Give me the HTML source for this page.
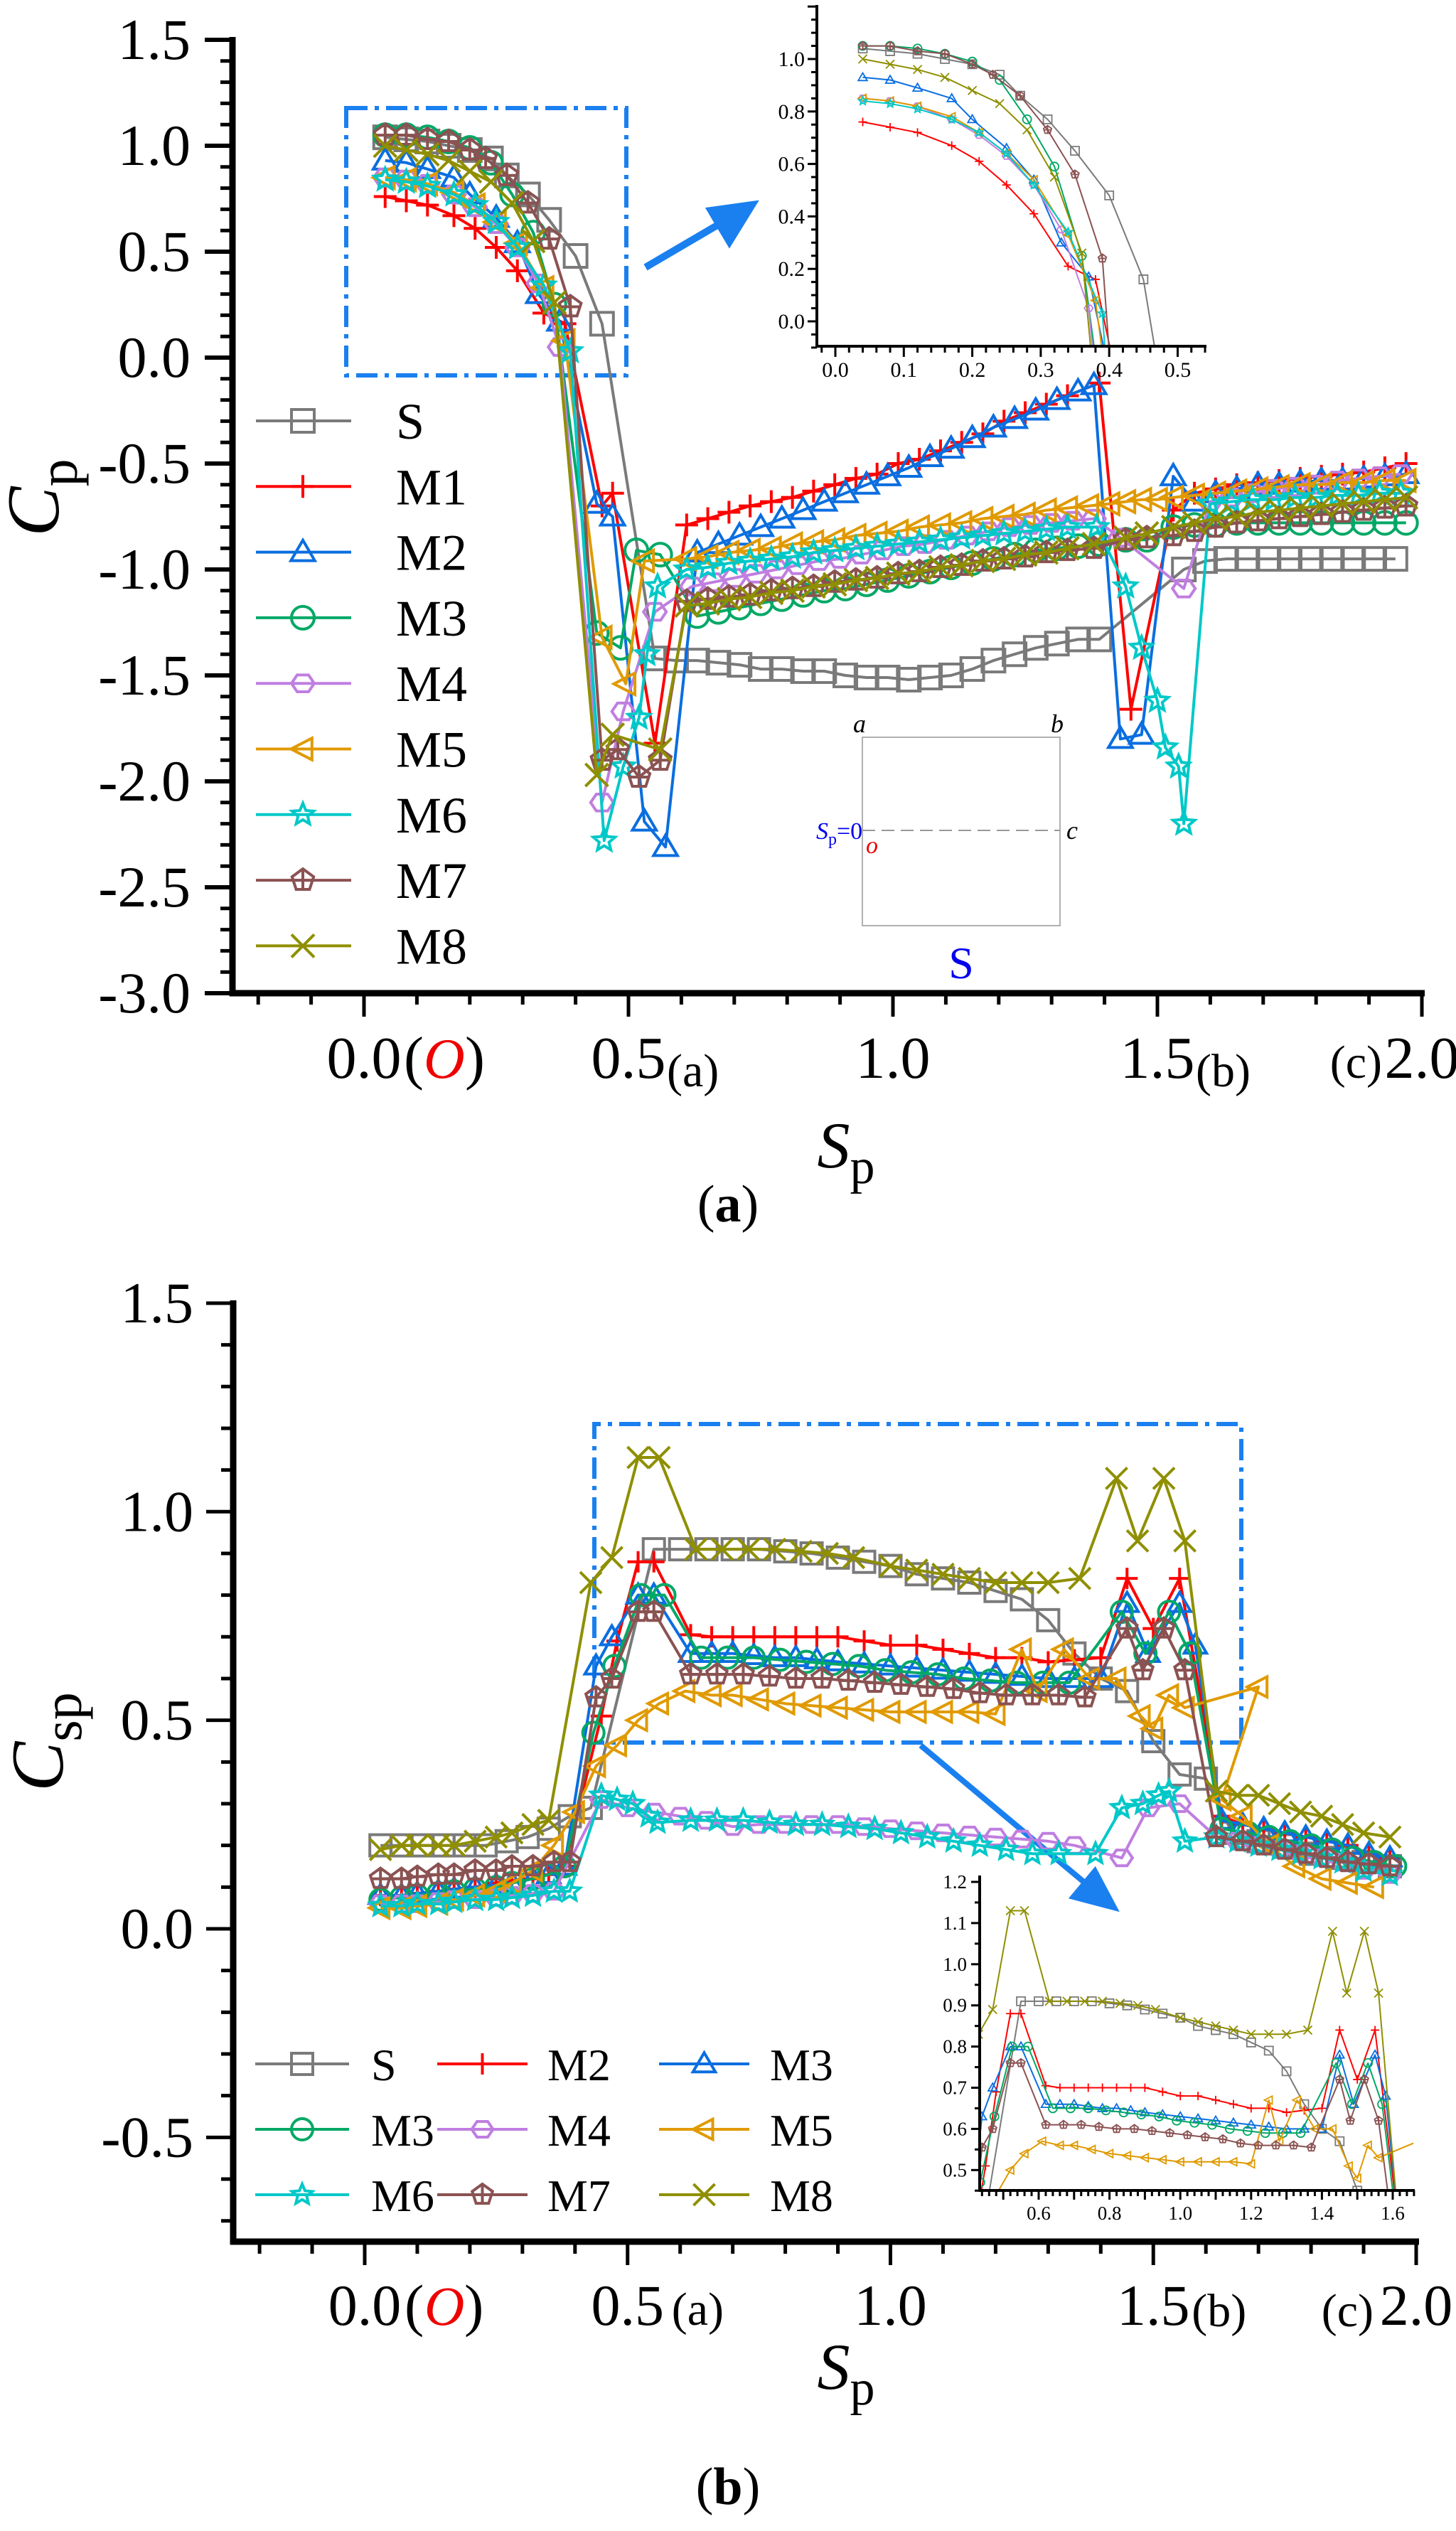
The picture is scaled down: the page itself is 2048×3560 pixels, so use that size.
<!DOCTYPE html>
<html><head><meta charset="utf-8"><style>
html,body{margin:0;padding:0;background:#fff;}
svg{display:block;font-family:"Liberation Serif",serif;}
</style></head><body>
<svg id="fig" xmlns="http://www.w3.org/2000/svg" width="2048" height="3560" viewBox="0 0 2048 3560">
<rect x="0" y="0" width="2048" height="3560" fill="#fff"/>
<g id="panelA"></g>
<g id="panelB"></g>
<text transform="translate(82,700) rotate(-90)" text-anchor="middle" font-size="105" font-style="italic">C<tspan font-style="normal" font-size="78" dy="26">p</tspan></text>
<text x="1190" y="1642" text-anchor="middle" font-size="92" font-style="italic">S<tspan font-style="normal" font-size="70" dy="22">p</tspan></text>
<text x="1024" y="1718" text-anchor="middle" font-size="74">(<tspan font-weight="bold">a</tspan>)</text>
<text transform="translate(88,2450) rotate(-90)" text-anchor="middle" font-size="105" font-style="italic">C<tspan font-style="normal" font-size="78" dy="26">sp</tspan></text>
<text x="1190" y="3360" text-anchor="middle" font-size="92" font-style="italic">S<tspan font-style="normal" font-size="70" dy="22">p</tspan></text>
<text x="1024" y="3522" text-anchor="middle" font-size="74">(<tspan font-weight="bold">b</tspan>)</text>
<g>
<rect x="1213" y="1037" width="278" height="265" fill="none" stroke="#b0b0b0" stroke-width="2"/>
<line x1="1213" y1="1168" x2="1491" y2="1168" stroke="#999" stroke-width="2" stroke-dasharray="18 9"/>
<text x="1200" y="1030" font-size="36" font-style="italic">a</text>
<text x="1478" y="1030" font-size="36" font-style="italic">b</text>
<text x="1500" y="1180" font-size="36" font-style="italic">c</text>
<text x="1148" y="1180" font-size="34" font-style="italic" fill="#0000ee">S<tspan font-style="normal" font-size="24" dy="8">p</tspan><tspan font-style="normal" font-size="34" dy="-8">=0</tspan></text>
<text x="1218" y="1200" font-size="34" font-style="italic" fill="#ee0000">o</text>
<text x="1352" y="1376" text-anchor="middle" font-size="64" fill="#0000ee">S</text>
</g>
</svg>
<script>
// ---------- Panel (a) data: Cp vs Sp ----------
const seriesNames = ['S','M1','M2','M3','M4','M5','M6','M7','M8'];
const aS_x=[0.04,0.08,0.12,0.16,0.20,0.24,0.27,0.31,0.35,0.40,0.45,0.55,0.59,0.63,0.67,0.71,0.75,0.79,0.83,0.87,0.91,0.95,0.99,1.03,1.07,1.11,1.15,1.19,1.23,1.27,1.31,1.35,1.39,1.55,1.59,1.63,1.67,1.71,1.75,1.79,1.83,1.87,1.91,1.95];
const aS_y=[1.04,1.03,1.02,1.0,0.98,0.94,0.86,0.77,0.65,0.48,0.16,-1.42,-1.43,-1.43,-1.44,-1.45,-1.47,-1.47,-1.48,-1.48,-1.5,-1.51,-1.51,-1.52,-1.51,-1.5,-1.47,-1.43,-1.4,-1.37,-1.35,-1.33,-1.33,-1.0,-0.96,-0.95,-0.95,-0.95,-0.95,-0.95,-0.95,-0.95,-0.95,-0.95];
const aM1_x=[0.04,0.08,0.12,0.17,0.21,0.25,0.29,0.34,0.38,0.45,0.47,0.55,0.61,0.65,0.69,0.73,0.77,0.81,0.85,0.89,0.93,0.97,1.01,1.05,1.09,1.13,1.17,1.21,1.25,1.29,1.33,1.39,1.45,1.53,1.57,1.61,1.65,1.69,1.73,1.77,1.81,1.85,1.89,1.93,1.97];
const aM1_y=[0.76,0.74,0.72,0.67,0.61,0.52,0.41,0.21,0.16,-0.7,-0.64,-1.82,-0.79,-0.76,-0.73,-0.7,-0.68,-0.66,-0.63,-0.6,-0.57,-0.55,-0.5,-0.48,-0.44,-0.4,-0.36,-0.3,-0.26,-0.22,-0.18,-0.12,-1.66,-0.72,-0.64,-0.62,-0.6,-0.59,-0.58,-0.57,-0.56,-0.55,-0.54,-0.52,-0.5];
const aM2_x=[0.04,0.08,0.12,0.17,0.20,0.25,0.29,0.33,0.37,0.44,0.47,0.53,0.57,0.63,0.67,0.71,0.75,0.79,0.83,0.87,0.91,0.95,0.99,1.03,1.07,1.11,1.15,1.19,1.23,1.27,1.31,1.35,1.38,1.43,1.47,1.53,1.57,1.61,1.65,1.69,1.73,1.77,1.81,1.85,1.89,1.93,1.97];
const aM2_y=[0.93,0.92,0.89,0.85,0.77,0.66,0.54,0.3,0.17,-0.69,-0.75,-2.19,-2.31,-0.92,-0.88,-0.84,-0.8,-0.76,-0.72,-0.68,-0.64,-0.6,-0.56,-0.52,-0.47,-0.43,-0.38,-0.33,-0.29,-0.25,-0.2,-0.16,-0.13,-1.8,-1.78,-0.56,-0.68,-0.64,-0.62,-0.6,-0.6,-0.59,-0.58,-0.58,-0.57,-0.56,-0.55];
const aM3_x=[0.04,0.08,0.12,0.16,0.20,0.24,0.28,0.32,0.36,0.44,0.485,0.515,0.56,0.63,0.67,0.71,0.75,0.79,0.83,0.87,0.91,0.95,0.99,1.03,1.07,1.11,1.15,1.19,1.23,1.27,1.31,1.35,1.39,1.44,1.48,1.53,1.57,1.61,1.65,1.69,1.73,1.77,1.81,1.85,1.89,1.93,1.97];
const aM3_y=[1.05,1.05,1.04,1.02,0.99,0.92,0.77,0.59,0.25,-1.3,-1.37,-0.91,-0.93,-1.22,-1.2,-1.18,-1.16,-1.14,-1.12,-1.1,-1.09,-1.07,-1.05,-1.03,-1.01,-0.99,-0.97,-0.95,-0.93,-0.91,-0.9,-0.89,-0.88,-0.86,-0.86,-0.8,-0.79,-0.79,-0.78,-0.78,-0.78,-0.78,-0.78,-0.78,-0.78,-0.78,-0.78];
const aM4_x=[0.04,0.08,0.12,0.17,0.21,0.25,0.29,0.33,0.37,0.45,0.49,0.55,0.62,0.66,0.70,0.74,0.78,0.82,0.86,0.90,0.94,0.98,1.02,1.06,1.10,1.14,1.18,1.22,1.26,1.30,1.34,1.38,1.43,1.55,1.60,1.64,1.68,1.72,1.76,1.80,1.84,1.88,1.92,1.96];
const aM4_y=[0.85,0.84,0.82,0.77,0.71,0.63,0.52,0.35,0.05,-2.1,-1.67,-1.2,-1.08,-1.06,-1.04,-1.02,-1.0,-0.98,-0.96,-0.95,-0.93,-0.91,-0.89,-0.88,-0.86,-0.84,-0.82,-0.8,-0.79,-0.78,-0.77,-0.76,-0.85,-1.09,-0.68,-0.66,-0.64,-0.62,-0.61,-0.6,-0.58,-0.57,-0.56,-0.55];
const aM5_x=[0.04,0.08,0.12,0.17,0.21,0.25,0.29,0.34,0.38,0.45,0.495,0.53,0.61,0.65,0.69,0.73,0.77,0.81,0.85,0.89,0.93,0.97,1.01,1.05,1.09,1.13,1.17,1.21,1.25,1.29,1.33,1.37,1.41,1.44,1.47,1.50,1.53,1.57,1.61,1.65,1.69,1.73,1.77,1.81,1.85,1.89,1.93,1.97];
const aM5_y=[0.85,0.84,0.82,0.78,0.72,0.64,0.54,0.33,0.08,-1.32,-1.54,-0.96,-0.95,-0.94,-0.92,-0.91,-0.9,-0.88,-0.87,-0.86,-0.84,-0.83,-0.82,-0.8,-0.79,-0.78,-0.76,-0.75,-0.74,-0.72,-0.71,-0.7,-0.69,-0.68,-0.67,-0.67,-0.66,-0.65,-0.64,-0.63,-0.62,-0.61,-0.6,-0.6,-0.59,-0.59,-0.58,-0.58];
const aM6_x=[0.04,0.08,0.12,0.17,0.21,0.25,0.29,0.34,0.39,0.454,0.49,0.52,0.535,0.555,0.61,0.65,0.69,0.73,0.77,0.81,0.85,0.89,0.93,0.97,1.01,1.05,1.09,1.13,1.17,1.21,1.25,1.29,1.33,1.385,1.44,1.47,1.50,1.515,1.54,1.55,1.60,1.64,1.68,1.72,1.76,1.80,1.84,1.88,1.92,1.96];
const aM6_y=[0.84,0.83,0.81,0.77,0.72,0.64,0.52,0.34,0.03,-2.28,-1.93,-1.7,-1.4,-1.08,-1.0,-0.99,-0.97,-0.96,-0.95,-0.94,-0.92,-0.91,-0.9,-0.89,-0.88,-0.87,-0.86,-0.85,-0.84,-0.83,-0.82,-0.81,-0.8,-0.8,-1.08,-1.37,-1.62,-1.84,-1.93,-2.2,-0.69,-0.68,-0.67,-0.67,-0.66,-0.66,-0.65,-0.65,-0.64,-0.64];
const aM7_x=[0.04,0.08,0.12,0.16,0.20,0.23,0.27,0.31,0.35,0.39,0.45,0.48,0.52,0.56,0.61,0.65,0.69,0.73,0.77,0.81,0.85,0.89,0.93,0.97,1.01,1.05,1.09,1.13,1.17,1.21,1.25,1.29,1.33,1.38,1.44,1.48,1.53,1.57,1.61,1.65,1.69,1.73,1.77,1.81,1.85,1.89,1.93,1.97];
const aM7_y=[1.05,1.05,1.03,1.02,0.98,0.94,0.86,0.73,0.56,0.24,-1.9,-1.85,-1.98,-1.9,-1.15,-1.14,-1.13,-1.12,-1.1,-1.09,-1.08,-1.06,-1.05,-1.04,-1.02,-1.01,-0.99,-0.98,-0.96,-0.95,-0.94,-0.92,-0.91,-0.9,-0.86,-0.85,-0.84,-0.82,-0.8,-0.78,-0.77,-0.76,-0.75,-0.74,-0.73,-0.72,-0.71,-0.7];
const aM8_x=[0.04,0.08,0.12,0.16,0.20,0.24,0.28,0.32,0.36,0.44,0.47,0.56,0.61,0.65,0.69,0.73,0.77,0.81,0.85,0.89,0.93,0.97,1.01,1.05,1.09,1.13,1.17,1.21,1.25,1.29,1.33,1.38,1.44,1.48,1.53,1.57,1.61,1.65,1.69,1.73,1.77,1.81,1.85,1.89,1.93,1.97];
const aM8_y=[1.0,0.98,0.96,0.93,0.88,0.83,0.73,0.55,0.26,-1.97,-1.78,-1.85,-1.17,-1.16,-1.14,-1.13,-1.11,-1.1,-1.08,-1.07,-1.05,-1.04,-1.02,-1.01,-0.99,-0.98,-0.96,-0.95,-0.93,-0.92,-0.9,-0.88,-0.85,-0.83,-0.8,-0.78,-0.76,-0.75,-0.73,-0.72,-0.71,-0.7,-0.69,-0.68,-0.67,-0.66];
const aYTicks=[1.5,1.0,0.5,0.0,-0.5,-1.0,-1.5,-2.0,-2.5,-3.0];
const aYTickLabels=['1.5','1.0','0.5','0.0','-0.5','-1.0','-1.5','-2.0','-2.5','-3.0'];
const xTicks=[0.0,0.5,1.0,1.5,2.0];
const xTickLabels=['0.0','0.5','1.0','1.5','2.0'];
const insetAXTicks=[0.0,0.1,0.2,0.3,0.4,0.5];
const insetAXLabels=['0.0','0.1','0.2','0.3','0.4','0.5'];
const insetAYTicks=[0.0,0.2,0.4,0.6,0.8,1.0];
const insetAYLabels=['0.0','0.2','0.4','0.6','0.8','1.0'];

// ---------- Panel (b) data: Csp vs Sp ----------
const bS_x=[0.03,0.07,0.11,0.15,0.19,0.23,0.27,0.31,0.35,0.39,0.43,0.55,0.60,0.65,0.70,0.75,0.80,0.85,0.90,0.95,1.0,1.05,1.10,1.15,1.20,1.25,1.30,1.35,1.40,1.45,1.50,1.55,1.60,1.65,1.70,1.75,1.80,1.85,1.90,1.95];
const bS_y=[0.2,0.2,0.2,0.2,0.2,0.2,0.21,0.22,0.24,0.27,0.29,0.91,0.91,0.91,0.91,0.91,0.905,0.9,0.89,0.88,0.87,0.85,0.84,0.83,0.81,0.79,0.74,0.66,0.6,0.57,0.45,0.37,0.36,0.23,0.21,0.2,0.18,0.17,0.16,0.15];
const bM1_x=[0.03,0.07,0.10,0.14,0.17,0.21,0.25,0.28,0.32,0.35,0.38,0.45,0.48,0.52,0.55,0.62,0.66,0.70,0.74,0.78,0.82,0.86,0.90,0.95,1.0,1.05,1.10,1.15,1.20,1.25,1.30,1.35,1.40,1.45,1.50,1.55,1.63,1.67,1.71,1.75,1.79,1.83,1.87,1.91,1.95];
const bM1_y=[0.08,0.08,0.085,0.09,0.095,0.1,0.11,0.115,0.12,0.13,0.15,0.51,0.69,0.88,0.88,0.705,0.7,0.7,0.7,0.7,0.7,0.7,0.7,0.69,0.68,0.68,0.67,0.66,0.65,0.65,0.64,0.645,0.65,0.84,0.72,0.84,0.27,0.25,0.24,0.23,0.22,0.21,0.2,0.18,0.17];
const bM2_x=[0.03,0.07,0.10,0.14,0.17,0.21,0.25,0.28,0.32,0.35,0.38,0.44,0.47,0.52,0.55,0.62,0.66,0.70,0.74,0.78,0.82,0.86,0.90,0.95,1.0,1.05,1.10,1.15,1.20,1.25,1.30,1.35,1.40,1.45,1.49,1.55,1.58,1.63,1.67,1.71,1.75,1.79,1.83,1.87,1.91,1.95];
const bM2_y=[0.08,0.08,0.085,0.09,0.095,0.1,0.105,0.11,0.12,0.13,0.15,0.63,0.7,0.8,0.8,0.66,0.66,0.66,0.655,0.65,0.65,0.645,0.64,0.635,0.63,0.625,0.62,0.615,0.61,0.605,0.6,0.6,0.6,0.78,0.66,0.78,0.68,0.26,0.25,0.24,0.23,0.22,0.21,0.2,0.18,0.17];
const bM3_x=[0.03,0.07,0.10,0.14,0.17,0.21,0.25,0.28,0.32,0.35,0.38,0.435,0.475,0.525,0.57,0.64,0.69,0.74,0.79,0.84,0.89,0.94,0.99,1.04,1.09,1.14,1.19,1.24,1.29,1.34,1.44,1.485,1.53,1.57,1.63,1.68,1.72,1.76,1.80,1.84,1.88,1.92,1.96];
const bM3_y=[0.07,0.075,0.08,0.085,0.09,0.095,0.1,0.11,0.12,0.13,0.15,0.47,0.63,0.8,0.8,0.65,0.65,0.65,0.645,0.64,0.635,0.63,0.62,0.615,0.61,0.6,0.595,0.59,0.59,0.59,0.76,0.66,0.76,0.66,0.24,0.23,0.22,0.21,0.2,0.19,0.17,0.16,0.15];
const bM4_x=[0.03,0.07,0.10,0.14,0.17,0.21,0.25,0.28,0.32,0.36,0.45,0.50,0.55,0.60,0.65,0.70,0.75,0.80,0.85,0.90,0.95,1.0,1.05,1.10,1.15,1.20,1.25,1.30,1.35,1.44,1.49,1.55,1.62,1.66,1.70,1.74,1.78,1.82,1.86,1.90,1.95];
const bM4_y=[0.06,0.06,0.06,0.065,0.07,0.07,0.075,0.08,0.085,0.09,0.31,0.29,0.28,0.27,0.26,0.245,0.25,0.25,0.25,0.25,0.245,0.24,0.235,0.23,0.225,0.22,0.215,0.21,0.2,0.17,0.29,0.3,0.22,0.21,0.2,0.19,0.18,0.17,0.16,0.14,0.13];
const bM5_x=[0.03,0.07,0.10,0.14,0.17,0.21,0.25,0.28,0.32,0.36,0.40,0.44,0.48,0.52,0.56,0.61,0.66,0.70,0.75,0.80,0.85,0.90,0.95,1.0,1.05,1.10,1.15,1.20,1.25,1.28,1.33,1.38,1.43,1.476,1.50,1.53,1.56,1.70,1.63,1.67,1.72,1.77,1.82,1.87,1.92];
const bM5_y=[0.05,0.05,0.055,0.06,0.07,0.08,0.09,0.11,0.14,0.2,0.28,0.39,0.44,0.5,0.54,0.57,0.56,0.56,0.55,0.54,0.535,0.53,0.525,0.52,0.52,0.52,0.52,0.515,0.67,0.57,0.67,0.6,0.6,0.51,0.48,0.56,0.53,0.58,0.31,0.27,0.2,0.15,0.12,0.11,0.1];
const bM6_x=[0.03,0.07,0.10,0.14,0.17,0.21,0.25,0.28,0.32,0.36,0.39,0.45,0.48,0.51,0.54,0.557,0.62,0.67,0.72,0.77,0.82,0.87,0.92,0.97,1.02,1.07,1.12,1.17,1.22,1.27,1.32,1.39,1.44,1.48,1.51,1.53,1.56,1.62,1.66,1.70,1.74,1.78,1.82,1.86,1.90,1.95];
const bM6_y=[0.055,0.055,0.06,0.06,0.065,0.07,0.07,0.075,0.08,0.09,0.09,0.32,0.31,0.3,0.27,0.255,0.26,0.26,0.26,0.255,0.25,0.25,0.245,0.24,0.23,0.22,0.21,0.2,0.19,0.18,0.18,0.18,0.29,0.3,0.32,0.33,0.21,0.22,0.21,0.2,0.19,0.18,0.17,0.16,0.14,0.13];
const bM7_x=[0.03,0.07,0.10,0.14,0.17,0.21,0.25,0.28,0.32,0.36,0.39,0.44,0.47,0.52,0.55,0.62,0.67,0.72,0.77,0.82,0.87,0.92,0.97,1.02,1.07,1.12,1.17,1.22,1.27,1.32,1.37,1.45,1.48,1.52,1.56,1.62,1.67,1.71,1.75,1.79,1.83,1.87,1.91,1.95];
const bM7_y=[0.12,0.12,0.125,0.13,0.13,0.14,0.14,0.15,0.15,0.16,0.16,0.555,0.6,0.76,0.76,0.61,0.61,0.61,0.605,0.6,0.6,0.595,0.59,0.585,0.58,0.575,0.565,0.56,0.56,0.56,0.555,0.72,0.62,0.72,0.62,0.22,0.21,0.2,0.19,0.18,0.17,0.16,0.155,0.15];
const bM8_x=[0.03,0.07,0.10,0.14,0.17,0.21,0.25,0.28,0.32,0.35,0.43,0.47,0.52,0.56,0.63,0.68,0.73,0.78,0.83,0.88,0.93,1.0,1.05,1.10,1.15,1.20,1.25,1.30,1.36,1.43,1.47,1.52,1.56,1.62,1.66,1.70,1.74,1.78,1.82,1.86,1.90,1.95];
const bM8_y=[0.19,0.2,0.2,0.2,0.2,0.21,0.22,0.23,0.25,0.26,0.83,0.89,1.13,1.13,0.91,0.91,0.91,0.91,0.905,0.9,0.89,0.87,0.86,0.85,0.84,0.83,0.83,0.83,0.84,1.08,0.93,1.08,0.93,0.33,0.32,0.32,0.3,0.28,0.27,0.25,0.23,0.22];
const bYTicks=[1.5,1.0,0.5,0.0,-0.5];
const bYTickLabels=['1.5','1.0','0.5','0.0','-0.5'];
const insetBXTicks=[0.6,0.8,1.0,1.2,1.4,1.6];
const insetBXLabels=['0.6','0.8','1.0','1.2','1.4','1.6'];
const insetBYTicks=[0.5,0.6,0.7,0.8,0.9,1.0,1.1,1.2];
const insetBYLabels=['0.5','0.6','0.7','0.8','0.9','1.0','1.1','1.2'];

const colors=['#7a7a7a','#ff0000','#0a6ee0','#00a865','#c07ee0','#e09a00','#00c8c8','#8b5252','#8f8f00'];
const markers=['square','plus','tri','circle','hex','ltri','star','pent','x'];
const legendALabels=['S','M1','M2','M3','M4','M5','M6','M7','M8'];
const legendBLabels=['S','M2','M3','M3','M4','M5','M6','M7','M8'];

const NS='http://www.w3.org/2000/svg';
function mk(tag,parent){const e=document.createElementNS(NS,tag);parent.appendChild(e);return e;}
function markerPath(t,x,y,r){
  let d='';
  if(t==='square'){d=`M${x-r} ${y-r}h${2*r}v${2*r}h${-2*r}Z`;}
  else if(t==='plus'){d=`M${x-r} ${y}H${x+r}M${x} ${y-r}V${y+r}`;}
  else if(t==='tri'){d=`M${x} ${y-r*1.05}L${x+r*1.05} ${y+r*0.75}L${x-r*1.05} ${y+r*0.75}Z`;}
  else if(t==='circle'){d=`M${x-r} ${y}a${r} ${r} 0 1 0 ${2*r} 0a${r} ${r} 0 1 0 ${-2*r} 0Z`;}
  else if(t==='hex'){let p=[];for(let i=0;i<6;i++){const a=Math.PI/3*i;p.push((x+r*Math.cos(a)).toFixed(1)+' '+(y+r*0.85*Math.sin(a)).toFixed(1));}d='M'+p.join('L')+'Z';}
  else if(t==='ltri'){d=`M${x-r*1.05} ${y}L${x+r*0.8} ${y-r*0.95}L${x+r*0.8} ${y+r*0.95}Z`;}
  else if(t==='star'){let p=[];for(let i=0;i<10;i++){const a=-Math.PI/2+Math.PI/5*i;const rr=i%2?r*0.45:r;p.push((x+rr*Math.cos(a)).toFixed(1)+' '+(y+rr*Math.sin(a)).toFixed(1));}d='M'+p.join('L')+'Z';}
  else if(t==='pent'){let p=[];for(let i=0;i<5;i++){const a=-Math.PI/2+2*Math.PI/5*i;p.push((x+r*Math.cos(a)).toFixed(1)+' '+(y+r*Math.sin(a)).toFixed(1));}d='M'+p.join('L')+`ZM${x} ${y-r}V${y+r*0.8}M${x-r*0.9} ${y}H${x+r*0.9}`;}
  else if(t==='x'){d=`M${x-r} ${y-r}L${x+r} ${y+r}M${x+r} ${y-r}L${x-r} ${y+r}`;}
  return d;
}
function drawSeries(parent,xs,ys,sx,sy,idx,r,lw,mw,name){
  const g=mk('g',parent);
  
  
  const pl=mk('polyline',g);
  
  
  pl.setAttribute('points',xs.map((v,i)=>sx(v).toFixed(1)+','+sy(ys[i]).toFixed(1)).join(' '));
  pl.setAttribute('fill','none');pl.setAttribute('stroke',colors[idx]);pl.setAttribute('stroke-width',lw);pl.setAttribute('stroke-linejoin','round');
  let d='';
  xs.forEach((v,i)=>{d+=markerPath(markers[idx],sx(v),sy(ys[i]),r);});
  const mp=mk('path',g);
  
  
  mp.setAttribute('d',d);mp.setAttribute('fill','none');mp.setAttribute('stroke',colors[idx]);mp.setAttribute('stroke-width',mw);
}
function line(parent,x1,y1,x2,y2,w,col){const l=mk('line',parent);l.setAttribute('x1',x1);l.setAttribute('y1',y1);l.setAttribute('x2',x2);l.setAttribute('y2',y2);l.setAttribute('stroke',col||'#000');l.setAttribute('stroke-width',w);return l;}
function text(parent,x,y,s,size,anchor,extra){const t=mk('text',parent);t.setAttribute('x',x);t.setAttribute('y',y);t.setAttribute('font-size',size);t.setAttribute('text-anchor',anchor||'start');t.textContent=s;if(extra)for(const k in extra)t.setAttribute(k,extra[k]);return t;}

const aData=[[aS_x,aS_y],[aM1_x,aM1_y],[aM2_x,aM2_y],[aM3_x,aM3_y],[aM4_x,aM4_y],[aM5_x,aM5_y],[aM6_x,aM6_y],[aM7_x,aM7_y],[aM8_x,aM8_y]];
const bData=[[bS_x,bS_y],[bM1_x,bM1_y],[bM2_x,bM2_y],[bM3_x,bM3_y],[bM4_x,bM4_y],[bM5_x,bM5_y],[bM6_x,bM6_y],[bM7_x,bM7_y],[bM8_x,bM8_y]];

// ===== Panel A =====
const A=document.getElementById('panelA');
const xA=v=>512+v*744, yA=v=>56+(1.5-v)*298;
const defs=mk('defs',document.getElementById('fig'));
const cpA=mk('clipPath',defs);cpA.setAttribute('id','clipIA');
const cra=mk('rect',cpA);cra.setAttribute('x',1151);cra.setAttribute('y',7);cra.setAttribute('width',544);cra.setAttribute('height',478);
const cpB=mk('clipPath',defs);cpB.setAttribute('id','clipIB');
const crb=mk('rect',cpB);crb.setAttribute('x',1380);crb.setAttribute('y',2640);crb.setAttribute('width',608);crb.setAttribute('height',439);

// axes a
const axA=mk('g',A);


line(axA,327,52,327,1401,9);
line(axA,323,1397,2004,1397,9);
for(let k=-30;k<=15;k++){const v=k/10;const maj=(k%5===0);line(axA,maj?288:310,yA(v),327,yA(v),maj?6:5);}
for(let k=-2;k<=20;k++){const v=k/10;const maj=(k%5===0);line(axA,xA(v),1397,xA(v),maj?1430:1413,maj?5:5);}
aYTicks.forEach((v,i)=>{const t=text(axA,268,yA(v)+27,aYTickLabels[i],82,'end');});
const aSuffix=['(O)','(a)','','(b)',''];
xTicks.forEach((v,i)=>{const t=text(axA,xA(v),1516,xTickLabels[i],84,'middle');});
text(axA,xA(0)+56,1516,'(',84,'start');text(axA,xA(0)+84,1516,'O',80,'start',{fill:'#ee0000','font-style':'italic'});text(axA,xA(0)+142,1516,')',84,'start');
text(axA,xA(0.5)+54,1528,'(a)',66,'start');
text(axA,xA(1.5)+54,1528,'(b)',66,'start');
text(axA,xA(2.0)-56,1516,'(c)',66,'end');

// dash box a + arrow
const boxA=mk('rect',A);


boxA.setAttribute('x',487);boxA.setAttribute('y',152);boxA.setAttribute('width',394);boxA.setAttribute('height',376);boxA.setAttribute('fill','none');boxA.setAttribute('stroke','#1a80f0');boxA.setAttribute('stroke-width',6);boxA.setAttribute('stroke-dasharray','30 10 6 10');
const arrA=mk('path',A);


arrA.setAttribute('d','M908 376 L1012 315 M1058 288 L1000 296 L1026 340 Z');arrA.setAttribute('stroke','#1a80f0');arrA.setAttribute('stroke-width',10);arrA.setAttribute('fill','#1a80f0');

// series a
aData.forEach((s,i)=>drawSeries(A,s[0],s[1],xA,yA,i,16,4,4,'series-a-'+seriesNames[i].toLowerCase()));

// legend a
const legA=mk('g',A);


legendALabels.forEach((lab,i)=>{const y=592+i*92.3;const g=mk('g',legA);
  
  
  line(g,360,y,494,y,4,colors[i]);const p=mk('path',g);p.setAttribute('d',markerPath(markers[i],426,y,16));p.setAttribute('fill','none');p.setAttribute('stroke',colors[i]);p.setAttribute('stroke-width',4);
  text(g,557,y+25,lab,72,'start');});

// inset a
const IA=mk('g',A);


const xIA=v=>1175+v*963, yIA=v=>452-v*369;
line(IA,1149,7,1149,489,4);line(IA,1147,487,1697,487,4);
for(let k=-1;k<=27;k++){const v=k/50;const maj=(k%5===0);if(v<-0.025)continue;line(IA,xIA(v),487,xIA(v),maj?502:496,3);}
for(let k=-2;k<=24;k++){const v=k/20;const maj=(k%4===0);if(v<-0.1)continue;line(IA,maj?1136:1141,yIA(v),1149,yIA(v),3);}
insetAXTicks.forEach((v,i)=>{text(IA,xIA(v),530,insetAXLabels[i],30,'middle');});
insetAYTicks.forEach((v,i)=>{text(IA,1132,yIA(v)+10,insetAYLabels[i],30,'end');});
const IAc=mk('g',IA);IAc.setAttribute('clip-path','url(#clipIA)');
aData.forEach((s,i)=>drawSeries(IAc,s[0],s[1],xIA,yIA,i,6,2,1.8,'inset-a-'+seriesNames[i].toLowerCase()));

// ===== Panel B =====
const B=document.getElementById('panelB');
const xB=v=>513+v*739.5, yB=v=>2713-v*586.7;
const axB=mk('g',B);


line(axB,328,1829,328,3157,9);
line(axB,324,3153,1996,3153,9);
for(let k=-7;k<=15;k++){const v=k/10;const maj=(k%5===0);line(axB,maj?290:311,yB(v),328,yB(v),5);}
for(let k=-2;k<=20;k++){const v=k/10;const maj=(k%5===0);line(axB,xB(v),3153,xB(v),maj?3186:3170,5);}
bYTicks.forEach((v,i)=>{const t=text(axB,272,yB(v)+27,bYTickLabels[i],82,'end');});
xTicks.forEach((v,i)=>{const t=text(axB,xB(v),3270,xTickLabels[i],82,'middle');});
text(axB,xB(0)+56,3270,'(',82,'start');text(axB,xB(0)+84,3270,'O',78,'start',{fill:'#ee0000','font-style':'italic'});text(axB,xB(0)+140,3270,')',82,'start');
text(axB,xB(0.5)+62,3270,'(a)',66,'start');
text(axB,xB(1.5)+54,3272,'(b)',66,'start');
text(axB,xB(2.0)-60,3272,'(c)',66,'end');

const boxB=mk('path',B);


boxB.setAttribute('d','M836 2360 V2003 H1746 V2451 M1746 2451 H836');boxB.setAttribute('fill','none');boxB.setAttribute('stroke','#1a80f0');boxB.setAttribute('stroke-width',6);boxB.setAttribute('stroke-dasharray','30 10 6 10');
const arrB=mk('path',B);


arrB.setAttribute('d','M1295 2455 L1528 2650 M1567 2683 L1510 2668 L1540 2632 Z');arrB.setAttribute('stroke','#1a80f0');arrB.setAttribute('stroke-width',8);arrB.setAttribute('fill','#1a80f0');

bData.forEach((s,i)=>drawSeries(B,s[0],s[1],xB,yB,i,15,4,4,'series-b-'+seriesNames[i].toLowerCase()));

const legB=mk('g',B);


const colX=[[359,491,522],[615,742,770],[927,1054,1083]];
legendBLabels.forEach((lab,i)=>{const row=Math.floor(i/3),col=i%3;const y=2903+row*92;const c=colX[col];const g=mk('g',legB);
  
  
  line(g,c[0],y,c[1],y,4,colors[i]);const p=mk('path',g);p.setAttribute('d',markerPath(markers[i],(c[0]+c[1])/2,y,15));p.setAttribute('fill','none');p.setAttribute('stroke',colors[i]);p.setAttribute('stroke-width',4);
  text(g,c[2],y+23,lab,64,'start');});

// inset b
const IB=mk('g',B);


const xIB=v=>1461+(v-0.6)*498, yIB=v=>2647-(v-1.2)*579;
line(IB,1378,2638,1378,3083,4);line(IB,1376,3081,1990,3081,4);
for(let k=22;k<=83;k++){const v=k/50;const maj=(k%5===0);if(v<0.44||v>1.66)continue;line(IB,xIB(v),3081,xIB(v),maj?3094:3089,3);}
for(let k=9;k<=24;k++){const v=k/20;const maj=(k%2===0);line(IB,maj?1366:1371,yIB(v),1378,yIB(v),3);}
insetBXTicks.forEach((v,i)=>{text(IB,xIB(v),3122,insetBXLabels[i],27,'middle');});
insetBYTicks.forEach((v,i)=>{text(IB,1360,yIB(v)+9,insetBYLabels[i],27,'end');});
const IBc=mk('g',IB);IBc.setAttribute('clip-path','url(#clipIB)');
bData.forEach((s,i)=>drawSeries(IBc,s[0],s[1],xIB,yIB,i,6,2,1.8,'inset-b-'+seriesNames[i].toLowerCase()));
</script>
</body></html>
